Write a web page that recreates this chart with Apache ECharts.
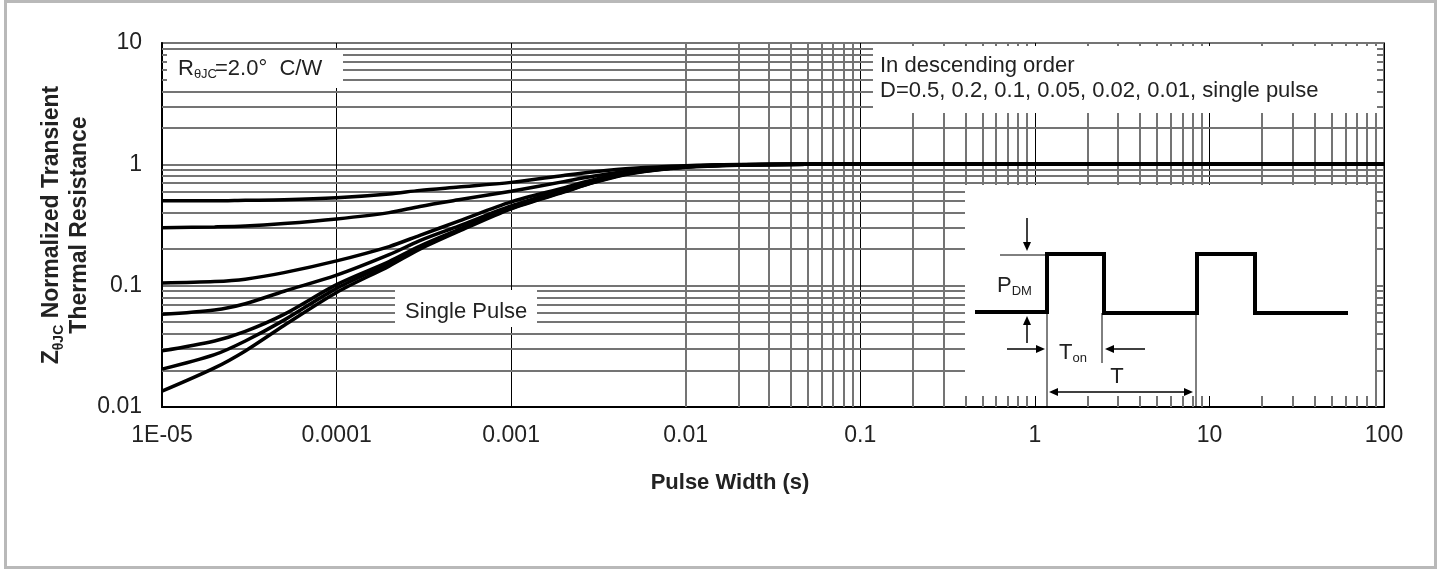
<!DOCTYPE html>
<html>
<head>
<meta charset="utf-8">
<script src="https://cdn.jsdelivr.net/npm/echarts@6/dist/echarts.min.js"></script>
<style>
  html, body { margin: 0; padding: 0; background: #fff; }
  #main { width: 1441px; height: 570px; }
</style>
</head>
<body>
<div id="main"></div>
<script>
var FONT = 'Liberation Sans, Arial, sans-serif';

// pulse width (s)
var pulseWidth = [1e-5, 2e-5, 3e-5, 5e-5, 1e-4, 2e-4, 3e-4, 5e-4, 1e-3, 2e-3, 3e-3, 5e-3, 1e-2, 2e-2, 5e-2, 0.1, 1, 10, 100];

// normalized transient thermal resistance, one list per duty cycle
var zD05   = [0.50, 0.50, 0.505, 0.51, 0.53, 0.57, 0.61, 0.65, 0.71, 0.81, 0.87, 0.93, 0.975, 0.995, 1, 1, 1, 1, 1];
var zD02   = [0.30, 0.305, 0.31, 0.325, 0.355, 0.40, 0.45, 0.51, 0.60, 0.72, 0.80, 0.89, 0.965, 0.99, 1, 1, 1, 1, 1];
var zD01   = [0.105, 0.108, 0.113, 0.128, 0.16, 0.21, 0.26, 0.34, 0.49, 0.64, 0.75, 0.87, 0.96, 0.99, 1, 1, 1, 1, 1];
var zD005  = [0.058, 0.063, 0.071, 0.09, 0.122, 0.18, 0.235, 0.31, 0.455, 0.615, 0.73, 0.86, 0.955, 0.99, 1, 1, 1, 1, 1];
var zD002  = [0.029, 0.035, 0.042, 0.058, 0.102, 0.158, 0.212, 0.29, 0.44, 0.60, 0.72, 0.855, 0.95, 0.99, 1, 1, 1, 1, 1];
var zD001  = [0.0205, 0.027, 0.035, 0.052, 0.095, 0.152, 0.205, 0.285, 0.435, 0.595, 0.715, 0.85, 0.95, 0.99, 1, 1, 1, 1, 1];
var zSingle = [0.0135, 0.021, 0.029, 0.047, 0.088, 0.145, 0.20, 0.28, 0.43, 0.59, 0.71, 0.845, 0.945, 0.985, 1, 1, 1, 1, 1];

var curveNames = ['D=0.5', 'D=0.2', 'D=0.1', 'D=0.05', 'D=0.02', 'D=0.01', 'single pulse'];
var curveValues = [zD05, zD02, zD01, zD005, zD002, zD001, zSingle];

var xTickLabels = ['1E-05', '0.0001', '0.001', '0.01', '0.1', '1', '10', '100'];
var yTickLabels = ['0.01', '0.1', '1', '10'];

// minor grid values 2..9 in each decade
var xMinor = [], yMinor = [];
for (var k = -5; k <= 1; k++) for (var m = 2; m <= 9; m++) xMinor.push(m * Math.pow(10, k));
for (var k2 = -2; k2 <= 0; k2++) for (var m2 = 2; m2 <= 9; m2++) yMinor.push(m2 * Math.pow(10, k2));

var gridGray = '#747474';

var series = curveNames.map(function (name, i) {
  return {
    name: name,
    type: 'line',
    z: 10,
    smooth: 0.3,
    symbol: 'none',
    lineStyle: { color: '#000', width: 3.5 },
    data: pulseWidth.map(function (x, j) { return [x, curveValues[i][j]]; })
  };
});

// minor grid as mark lines
series.push({
  type: 'line',
  z: 1,
  silent: true,
  symbol: 'none',
  lineStyle: { width: 0 },
  data: [[1e-5, 0.01]],
  markLine: {
    silent: true,
    symbol: ['none', 'none'],
    label: { show: false },
    lineStyle: { color: gridGray, width: 2, type: 'solid' },
    data: xMinor.map(function (v) { return { xAxis: v }; })
      .concat(yMinor.map(function (v) { return { yAxis: v }; }))
  }
});

function arrow(x1, y1, x2, y2) {
  var a = Math.atan2(y2 - y1, x2 - x1), L = 9, W = 4;
  var bx = x2 - L * Math.cos(a), by = y2 - L * Math.sin(a);
  return [
    { type: 'line', z: 7, shape: { x1: x1, y1: y1, x2: bx, y2: by }, style: { stroke: '#000', lineWidth: 1.5 } },
    { type: 'polygon', z: 7, shape: { points: [[x2, y2], [bx - W * Math.sin(a), by + W * Math.cos(a)], [bx + W * Math.sin(a), by - W * Math.cos(a)]] }, style: { fill: '#000' } }
  ];
}
function vline(x, y1, y2) {
  return { type: 'line', z: 7, shape: { x1: x, y1: y1, x2: x, y2: y2 }, style: { stroke: '#000', lineWidth: 1 } };
}
function subText(x, y, main, sub) {
  return { type: 'text', z: 7, x: x, y: y, style: {
    text: '{a|' + main + '}{s|' + sub + '}', textVerticalAlign: 'middle',
    rich: { a: { fontSize: 22, fontFamily: FONT, fill: textColor, color: textColor },
            s: { fontSize: 13, fontFamily: FONT, fill: textColor, color: textColor, verticalAlign: 'bottom', padding: [10, 0, 0, 0] } } } };
}

var textColor = '#222';
var graphics = [
  { type: 'rect', z: 20, shape: { x: 5.5, y: 1.5, width: 1430, height: 566 }, style: { fill: 'none', stroke: '#b9b9b9', lineWidth: 3 } },
  // text boxes
  { type: 'rect', z: 5, shape: { x: 167, y: 50, width: 176, height: 38 }, style: { fill: '#fff' } },
  subText(178, 69, 'R', 'θJC'),
  { type: 'text', z: 6, x: 215, y: 69, style: { text: '=2.0°  C/W', font: '22px ' + FONT, fill: textColor, textVerticalAlign: 'middle' } },
  { type: 'rect', z: 5, shape: { x: 873, y: 46, width: 504, height: 67 }, style: { fill: '#fff' } },
  { type: 'text', z: 6, x: 880, y: 66, style: { text: 'In descending order', font: '22px ' + FONT, fill: textColor, textVerticalAlign: 'middle' } },
  { type: 'text', z: 6, x: 880, y: 91, style: { text: 'D=0.5, 0.2, 0.1, 0.05, 0.02, 0.01, single pulse', font: '22px ' + FONT, fill: textColor, textVerticalAlign: 'middle' } },
  { type: 'rect', z: 5, shape: { x: 395, y: 290, width: 142, height: 37 }, style: { fill: '#fff' } },
  { type: 'text', z: 6, x: 405, y: 312, style: { text: 'Single Pulse', font: '22px ' + FONT, fill: textColor, textVerticalAlign: 'middle' } },
  // inset with duty cycle waveform
  { type: 'rect', z: 5, shape: { x: 965, y: 185, width: 410, height: 211 }, style: { fill: '#fff' } },
  { type: 'polyline', z: 7, shape: { points: [[975, 312], [1047, 312], [1047, 254], [1104, 254], [1104, 313], [1197, 313], [1197, 254], [1255, 254], [1255, 313], [1348, 313]] },
    style: { stroke: '#000', lineWidth: 4, fill: 'none' } },
  { type: 'line', z: 7, shape: { x1: 1000, y1: 255, x2: 1046, y2: 255 }, style: { stroke: '#000', lineWidth: 1 } },
  vline(1047, 313, 408),
  vline(1102, 313, 363),
  vline(1196, 313, 407),
  subText(997, 286, 'P', 'DM'),
  subText(1059, 353, 'T', 'on'),
  { type: 'text', z: 7, x: 1117, y: 377, style: { text: 'T', font: '22px ' + FONT, fill: textColor, textAlign: 'center', textVerticalAlign: 'middle' } }
]
  .concat(arrow(1027, 218, 1027, 251))
  .concat(arrow(1027, 343, 1027, 316))
  .concat(arrow(1007, 349, 1045, 349))
  .concat(arrow(1145, 349, 1105, 349))
  .concat(arrow(1120, 392, 1049, 392))
  .concat(arrow(1120, 392, 1193, 392));

// keep the annotation layer above the grid lines
graphics.forEach(function (g) { g.zlevel = 1; });

var myChart = echarts.init(document.getElementById('main'));
var option = {
  animation: false,
  backgroundColor: '#fff',
  grid: { left: 162, right: 57, top: 43, bottom: 163, show: true, borderColor: gridGray, borderWidth: 2, backgroundColor: 'transparent' },
  xAxis: {
    type: 'log',
    logBase: 10,
    min: 1e-5,
    max: 100,
    name: 'Pulse Width (s)',
    nameLocation: 'middle',
    nameGap: 65,
    nameMoveOverlap: false,
    nameTextStyle: { fontFamily: FONT, fontSize: 22, fontWeight: 'bold', color: textColor, padding: [0, 86, 0, 0] },
    axisLine: { lineStyle: { color: '#000', width: 2 } },
    axisTick: { show: false },
    axisLabel: {
      margin: 17,
      fontFamily: FONT, fontSize: 23, color: textColor,
      formatter: function (v) { return xTickLabels[Math.round(Math.log10(v)) + 5]; }
    },
    splitLine: { show: true, lineStyle: { color: '#000', width: 1 } }
  },
  yAxis: {
    type: 'log',
    logBase: 10,
    min: 0.01,
    max: 10,
    name: '{n|Z}{s|θJC}{n| Normalized Transient}\n{n|Thermal Resistance}',
    nameLocation: 'middle',
    nameGap: 68,
    nameMoveOverlap: false,
    nameTextStyle: {
      align: 'center',
      lineHeight: 28,
      rich: {
        n: { fontFamily: FONT, fontSize: 23, fontWeight: 'bold', color: textColor, lineHeight: 28 },
        s: { fontFamily: FONT, fontSize: 14, fontWeight: 'bold', color: textColor, verticalAlign: 'bottom', lineHeight: 28, padding: [12, 0, 0, 0] }
      }
    },
    axisLine: { lineStyle: { color: '#000', width: 2 } },
    axisTick: { show: false },
    axisLabel: {
      margin: 20,
      fontFamily: FONT, fontSize: 23, color: textColor,
      formatter: function (v) { return yTickLabels[Math.round(Math.log10(v)) + 2]; }
    },
    splitLine: { show: true, lineStyle: { color: gridGray, width: 2 } }
  },
  graphic: graphics,
  series: series
};
myChart.setOption(option);
</script>
</body>
</html>
